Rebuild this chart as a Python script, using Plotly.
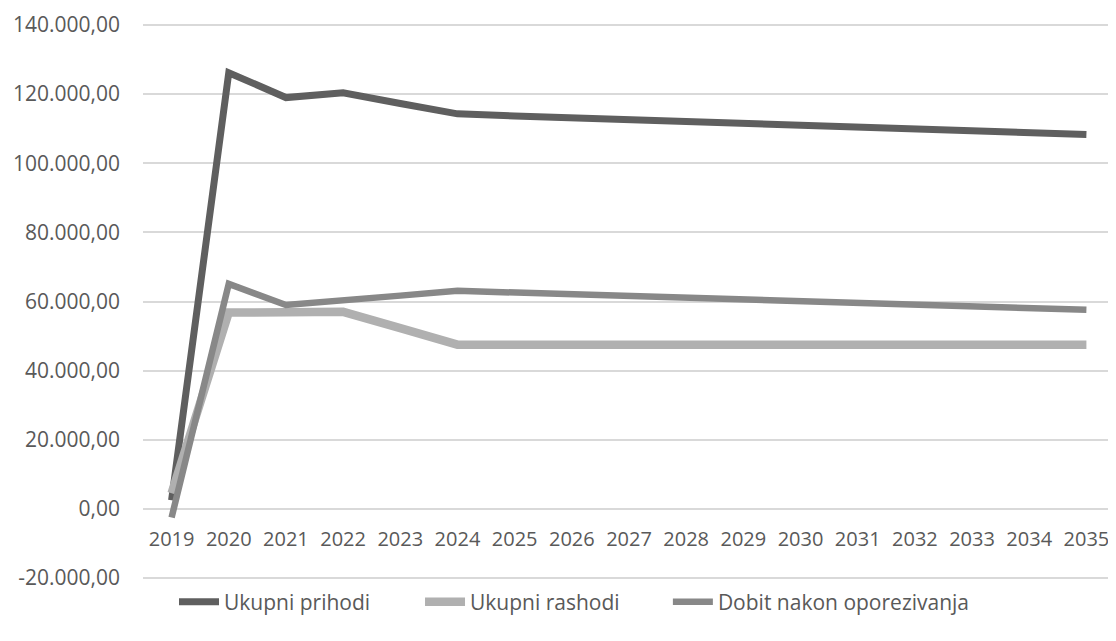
import plotly.graph_objects as go

years = [str(y) for y in range(2019, 2036)]

ukupni_prihodi = [2500, 126200, 119000, 120400, 117300, 114300, 113700, 113200,
                  112600, 112100, 111500, 111000, 110500, 109900, 109400, 108900, 108300]
ukupni_rashodi = [4500, 56800, 56900, 57000, 52300, 47500, 47500, 47500,
                  47500, 47500, 47500, 47500, 47500, 47500, 47500, 47500, 47500]
dobit_nakon = [-2500, 65100, 59000, 60200, 61700, 63100, 62600, 62100,
               61600, 61100, 60600, 60100, 59600, 59100, 58600, 58100, 57600]

series_names = ["Ukupni prihodi", "Ukupni rashodi", "Dobit nakon oporezivanja"]

y_ticks = [-20000, 0, 20000, 40000, 60000, 80000, 100000, 120000, 140000]


def fmt(v):
    s = f"{abs(v):,.2f}".replace(",", "X").replace(".", ",").replace("X", ".")
    return ("-" if v < 0 else "") + s


y_ticktext = [fmt(v) for v in y_ticks]

FONT = "Open Sans"
TXT = "#595959"

Y_MIN, Y_MAX, PAD = -20000, 140000, 580
y_lo, y_hi = Y_MIN - PAD, Y_MAX + PAD
zero_pos = (0 - y_lo) / (y_hi - y_lo)

fig = go.Figure()
fig.add_trace(go.Scatter(x=years, y=ukupni_prihodi, name=series_names[0], mode="lines",
                         line=dict(color="#5f5f5f", width=7), legend="legend"))
fig.add_trace(go.Scatter(x=years, y=ukupni_rashodi, name=series_names[1], mode="lines",
                         line=dict(color="#b0b0b0", width=8.5), legend="legend2"))
fig.add_trace(go.Scatter(x=years, y=dobit_nakon, name=series_names[2], mode="lines",
                         line=dict(color="#888888", width=6.5), legend="legend3"))


def leg(xpos):
    return dict(orientation="h", x=xpos, xanchor="left", xref="paper",
                y=-0.0395, yanchor="middle", yref="paper",
                font=dict(family=FONT, size=21, color=TXT),
                itemwidth=40, bgcolor="rgba(0,0,0,0)")


fig.update_layout(
    width=1108, height=633,
    margin=dict(l=135, r=1, t=15, b=61, autoexpand=False),
    paper_bgcolor="white", plot_bgcolor="white",
    font=dict(family=FONT, size=20, color=TXT),
    showlegend=True,
    legend=leg(0.0319),
    legend2=leg(0.285),
    legend3=leg(0.540),
    xaxis=dict(type="category", range=[-0.5, 16.5], showgrid=False,
               showline=False, zeroline=False, anchor="free", position=zero_pos,
               ticks="", ticklabelstandoff=16, tickangle=0, automargin=False,
               tickfont=dict(family=FONT, size=20, color=TXT)),
    yaxis=dict(range=[y_lo, y_hi], tickvals=y_ticks, ticktext=y_ticktext,
               showgrid=True, gridcolor="#d9d9d9", gridwidth=1.5,
               zeroline=False, showline=False, ticks="", automargin=False,
               ticklabelstandoff=22,
               tickfont=dict(family=FONT, size=21, color=TXT)),
)

fig.write_html("out.html")
